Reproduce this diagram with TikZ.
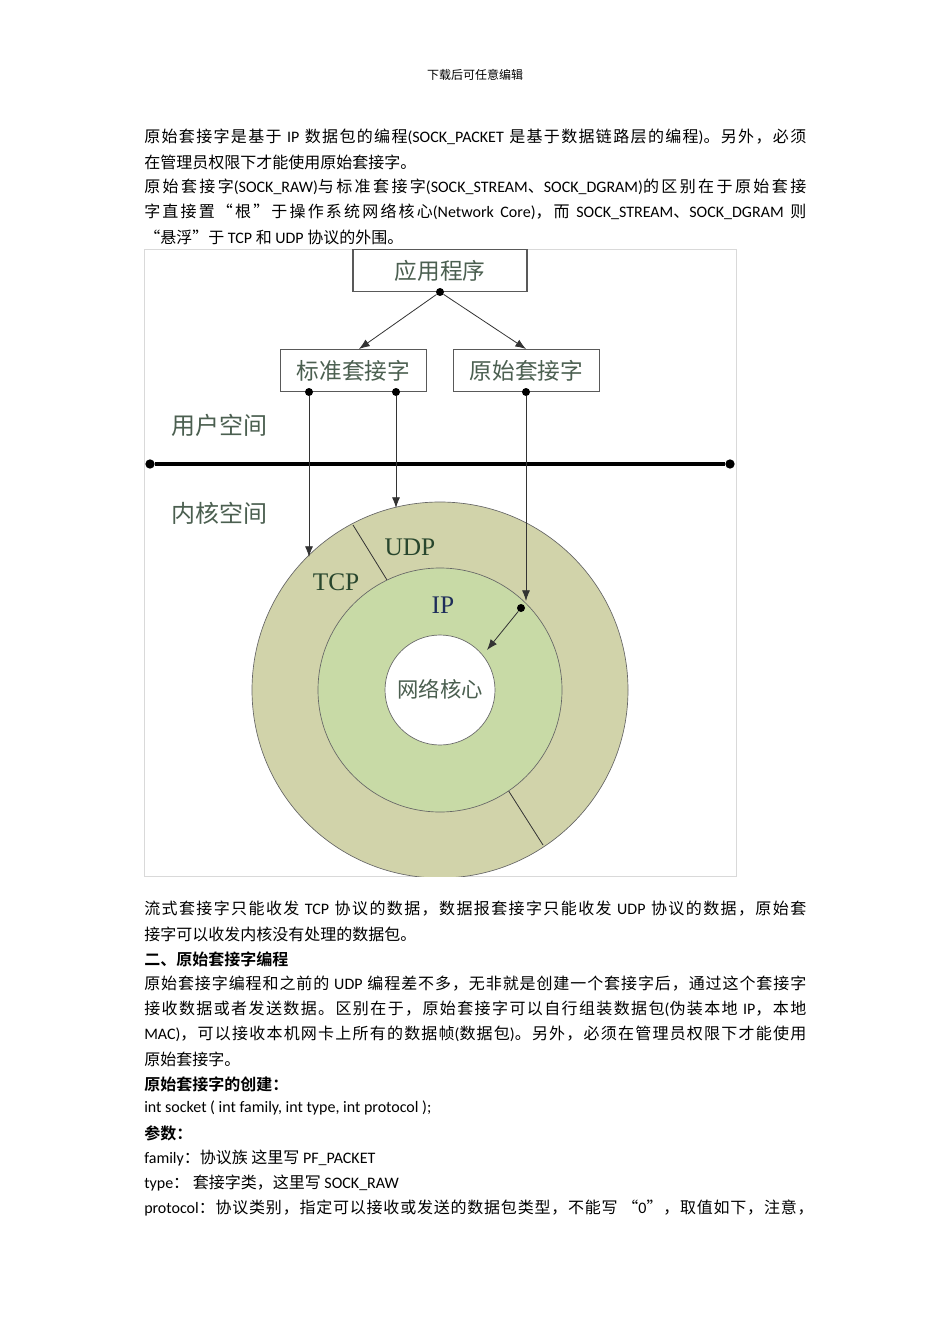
\documentclass[tikz,border=0pt]{standalone}
\usepackage{fontspec}
\setmainfont{Carlito}
\newfontfamily\cjk{Noto Sans CJK SC}[BoldFont={Noto Sans CJK SC Bold}]
\XeTeXinterchartokenstate=1
\newXeTeXintercharclass\CJKcls
\count255="4E00
\loop\XeTeXcharclass\count255=\CJKcls\ifnum\count255<"9FFF\advance\count255 1 \repeat
\count255="3000
\loop\XeTeXcharclass\count255=\CJKcls\ifnum\count255<"303F\advance\count255 1 \repeat
\count255="FF00
\loop\XeTeXcharclass\count255=\CJKcls\ifnum\count255<"FFEF\advance\count255 1 \repeat
\XeTeXcharclass"201C=\CJKcls
\XeTeXcharclass"201D=\CJKcls
\XeTeXinterchartoks 0 \CJKcls={\begingroup\cjk}
\XeTeXinterchartoks 4095 \CJKcls={\begingroup\cjk}
\XeTeXinterchartoks \CJKcls 0={\endgroup}
\XeTeXinterchartoks \CJKcls 4095={\endgroup}
\XeTeXinterchartoks \CJKcls \CJKcls={\hskip0pt plus 1pt minus 0.3pt\relax}
\definecolor{ringout}{RGB}{209,211,170}
\definecolor{ringmid}{RGB}{200,218,166}
\definecolor{dgreen}{RGB}{40,70,45}
\definecolor{lbl}{RGB}{75,95,80}
\newcommand{\jline}[2][496.5pt]{\hbox to #1{#2}}
\tikzset{
  body/.style={anchor=west,inner sep=0pt,font=\fontsize{12}{14}\selectfont},
  jbody/.style={body},
  bodyb/.style={body,font=\fontsize{12}{14}\selectfont\bfseries},
  box/.style={draw=gray!70!black,fill=white,line width=0.8pt,inner sep=0pt,font=\fontsize{17}{19}\selectfont,text=lbl},
  arr/.style={-{Latex[length=8pt,width=6pt]},line width=0.6pt,draw=black!80},
  dot/.style={circle,fill=black,inner sep=0pt,minimum size=7pt},
}
\usetikzlibrary{arrows.meta}
\begin{document}
\hbadness=10000 \hfuzz=20pt
\begin{tikzpicture}[x=0.75pt,y=-0.75pt]
\fill[white] (0,0) rectangle (950,1344);
\useasboundingbox (0,0) rectangle (950,1344);
\node[font=\fontsize{9}{10}\selectfont] (hdr) at (475,75) {下载后可任意编辑};
\node[jbody] (l1) at (144,137) {\jline{原始套接字是基于 IP 数据包的编程(SOCK\_PACKET 是基于数据链路层的编程)。另外，必须}};
\node[body] (l2) at (144,162) {在管理员权限下才能使用原始套接字。};
\node[jbody] (l3) at (144,187) {\jline{原始套接字(SOCK\_RAW)与标准套接字(SOCK\_STREAM、SOCK\_DGRAM)的区别在于原始套接}};
\node[jbody] (l4) at (144,212) {\jline{字直接置“根”于操作系统网络核心(Network Core)，而 SOCK\_STREAM、SOCK\_DGRAM 则}};
\node[body] (l5) at (144,237) {“悬浮”于 TCP 和 UDP 协议的外围。};
% diagram
\draw[black!15,line width=0.6pt] (144,249) rectangle (736,876);
\begin{scope}
\clip (144,249) rectangle (736,876);
\fill[ringout,draw=black!60,line width=0.5pt] (440,690) circle[radius=188];
\draw[black!80,line width=0.6pt] (353,525) -- (387,580);
\draw[black!80,line width=0.6pt] (508,790) -- (543,845);
\fill[ringmid,draw=black!60,line width=0.5pt] (440,690) circle[radius=122];
\fill[white,draw=black!60,line width=0.5pt] (440,690) circle[radius=55];
\end{scope}
\node[font=\fontsize{19}{21}\selectfont\fontspec{Liberation Serif},text=dgreen] (udp) at (410,547) {UDP};
\node[font=\fontsize{19}{21}\selectfont\fontspec{Liberation Serif},text=dgreen] (tcp) at (336,582) {TCP};
\node[font=\fontsize{19}{21}\selectfont\fontspec{Liberation Serif},text={rgb,255:red,30;green,45;blue,90}] (ip) at (443,605) {IP};
\node[font=\fontsize{16}{18}\selectfont,text=lbl] (core) at (440,689) {网络核心};
\node[box,minimum width=130.5pt,minimum height=32pt] (app) at (440,270.5) {应用程序};
\node[box,minimum width=109pt,minimum height=32pt] (std) at (353.5,370.5) {标准套接字};
\node[box,minimum width=109pt,minimum height=32pt] (raw) at (526.5,370.5) {原始套接字};
\node[font=\fontsize{18}{20}\selectfont,text=lbl] (us) at (219,425) {用户空间};
\node[font=\fontsize{18}{20}\selectfont,text=lbl] (ks) at (219,513) {内核空间};
\node[dot] (le) at (150,464) {};
\node[dot] (re) at (730,464) {};
\draw[line width=3pt] (le) -- (re);
\node[dot,minimum size=6pt] (d0) at (440,292) {};
\node[dot,minimum size=6pt] (d1) at (309,392) {};
\node[dot,minimum size=6pt] (d2) at (396,392) {};
\node[dot,minimum size=6pt] (d3) at (526,392) {};
\coordinate (a1) at (359,349);
\coordinate (a2) at (526,349);
\draw[arr] (d0) -- (a1);
\draw[arr] (d0) -- (a2);
\coordinate (t1) at (309,557);
\coordinate (t2) at (396,508);
\coordinate (t3) at (526,601);
\draw[arr] (d1) -- (t1);
\draw[arr] (d2) -- (t2);
\draw[arr] (d3) -- (t3);
\node[dot,minimum size=6pt] (d4) at (521,608) {};
\coordinate (t4) at (487,650);
\draw[arr] (d4) -- (t4);
% after text
\node[jbody] (m1) at (144,909) {\jline{流式套接字只能收发 TCP 协议的数据，数据报套接字只能收发 UDP 协议的数据，原始套}};
\node[body] (m2) at (144,934) {接字可以收发内核没有处理的数据包。};
\node[bodyb] (m3) at (144,959) {二、原始套接字编程};
\node[jbody] (m4) at (144,984) {\jline{原始套接字编程和之前的 UDP 编程差不多，无非就是创建一个套接字后，通过这个套接字}};
\node[jbody] (m5) at (144,1009) {\jline{接收数据或者发送数据。区别在于，原始套接字可以自行组装数据包(伪装本地 IP，本地}};
\node[jbody] (m6) at (144,1034) {\jline{MAC)，可以接收本机网卡上所有的数据帧(数据包)。另外，必须在管理员权限下才能使用}};
\node[body] (m7) at (144,1059) {原始套接字。};
\node[bodyb] (m8) at (144,1084) {原始套接字的创建：};
\node[body] (m9) at (144,1108) {int socket ( int family, int type, int protocol );};
\node[bodyb] (m10) at (144,1133) {参数：};
\node[body] (m11) at (144,1158) {family：协议族 这里写 PF\_PACKET};
\node[body] (m12) at (144,1183) {type： 套接字类，这里写 SOCK\_RAW};
\node[jbody] (m13) at (144,1208) {\jline[502pt]{protocol：协议类别，指定可以接收或发送的数据包类型，不能写 “0”，取值如下，注意，}};
\end{tikzpicture}
\end{document}
